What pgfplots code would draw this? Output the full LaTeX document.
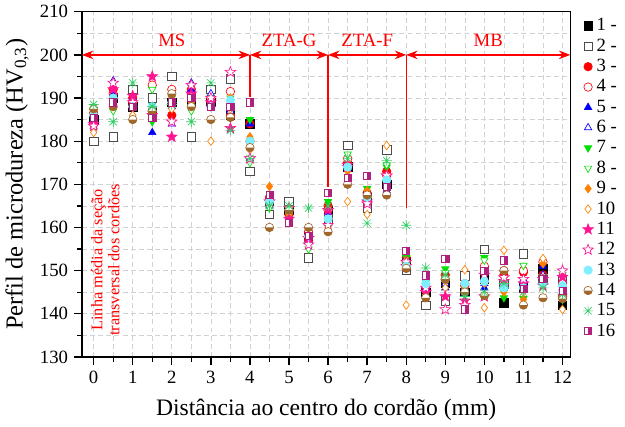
\documentclass[border=0pt]{standalone}
\usepackage{fontspec}
\setmainfont{Liberation Serif}
\usepackage{pgfplots}
\usepackage{pgfplotstable}
\pgfplotsset{compat=1.18}
\usetikzlibrary{arrows.meta,plotmarks}

\definecolor{cred}{HTML}{FF0000}
\definecolor{cblue}{HTML}{0000FF}
\definecolor{cgreen}{HTML}{00E000}
\definecolor{corange}{HTML}{FF8000}
\definecolor{cpink}{HTML}{FF1493}
\definecolor{ccyan}{HTML}{7FEFFF}
\definecolor{cbrown}{HTML}{A0662A}
\definecolor{cgreen2}{HTML}{33CC66}
\definecolor{cmag}{HTML}{B0207F}

% five-point star
\pgfdeclareplotmark{pstar}{%
  \pgfpathmoveto{\pgfpointpolar{90}{1.3\pgfplotmarksize}}%
  \pgfpathlineto{\pgfpointpolar{126}{0.55\pgfplotmarksize}}%
  \pgfpathlineto{\pgfpointpolar{162}{1.3\pgfplotmarksize}}%
  \pgfpathlineto{\pgfpointpolar{198}{0.55\pgfplotmarksize}}%
  \pgfpathlineto{\pgfpointpolar{234}{1.3\pgfplotmarksize}}%
  \pgfpathlineto{\pgfpointpolar{270}{0.55\pgfplotmarksize}}%
  \pgfpathlineto{\pgfpointpolar{306}{1.3\pgfplotmarksize}}%
  \pgfpathlineto{\pgfpointpolar{342}{0.55\pgfplotmarksize}}%
  \pgfpathlineto{\pgfpointpolar{18}{1.3\pgfplotmarksize}}%
  \pgfpathlineto{\pgfpointpolar{54}{0.55\pgfplotmarksize}}%
  \pgfpathclose
  \pgfusepathqfillstroke}
% eight-ray asterisk
\pgfdeclareplotmark{ast8}{%
  \pgfpathmoveto{\pgfpointpolar{0}{1.2\pgfplotmarksize}}\pgfpathlineto{\pgfpointpolar{180}{1.2\pgfplotmarksize}}%
  \pgfpathmoveto{\pgfpointpolar{45}{1.2\pgfplotmarksize}}\pgfpathlineto{\pgfpointpolar{225}{1.2\pgfplotmarksize}}%
  \pgfpathmoveto{\pgfpointpolar{90}{1.2\pgfplotmarksize}}\pgfpathlineto{\pgfpointpolar{270}{1.2\pgfplotmarksize}}%
  \pgfpathmoveto{\pgfpointpolar{135}{1.2\pgfplotmarksize}}\pgfpathlineto{\pgfpointpolar{315}{1.2\pgfplotmarksize}}%
  \pgfusepathqstroke}
% circle, lower half filled
\pgfdeclareplotmark{hcirc}{%
  \begin{pgfscope}\pgfsetfillcolor{white}%
  \pgfpathcircle{\pgfpointorigin}{\pgfplotmarksize}\pgfusepathqfill\end{pgfscope}%
  \pgfpathmoveto{\pgfpoint{-\pgfplotmarksize}{0pt}}%
  \pgfpatharc{180}{360}{\pgfplotmarksize}\pgfpathclose\pgfusepathqfill
  \pgfpathcircle{\pgfpointorigin}{\pgfplotmarksize}\pgfusepathqstroke}
% square, right half filled
\pgfdeclareplotmark{hsq}{%
  \begin{pgfscope}\pgfsetfillcolor{white}%
  \pgfpathrectangle{\pgfpoint{-\pgfplotmarksize}{-\pgfplotmarksize}}{\pgfpoint{2\pgfplotmarksize}{2\pgfplotmarksize}}%
  \pgfusepathqfill\end{pgfscope}%
  \pgfpathrectangle{\pgfpoint{0pt}{-\pgfplotmarksize}}{\pgfpoint{\pgfplotmarksize}{2\pgfplotmarksize}}\pgfusepathqfill
  \pgfpathrectangle{\pgfpoint{-\pgfplotmarksize}{-\pgfplotmarksize}}{\pgfpoint{2\pgfplotmarksize}{2\pgfplotmarksize}}%
  \pgfusepathqstroke}

\pgfplotstableread{
x    s1    s2    s3    s4    s5    s6    s7    s8    s9    s10   s11   s12   s13   s14   s15   s16
0    185   180   186.5 184   186   185   186   182.5 186.5 182   184   183.5 186   187.5 188.5 185.5
0.5  190   181   192   191   191   194   188   187   189   188   192   193.5 190   188   184.5 189
1    188   192   190   189   190   190   189   188   186   186   190.5 189   188   185   193.5 188
1.5  187   190   187   193   182   188   184.5 192   187   186   195   186   188   187   188   185.5
2    189   195   186   192   188   184   188   190   190   187.5 181   184.5 189   191   188.5 189
2.5  189   181   192   191   192   193.5 188   187   189   188   191   193   190   188   184.5 190
3    189   192   189   190   189.5 191   190   188   188   180   189   190   188   185   193.5 188
3.5  186   194.5 186   191.5 188   187   189   190   190   187.5 183   196   189.5 185.5 182.5 188
4    184   173   184   180   184   176   185   175   181   178   176   176   180   178.5 176   189
4.5  166   163   166   167   165   165.5 165   164.5 169.5 166   166   166   166   160   165   167.5
5    164   166   163   164   162   162.5 163   162   163   164   162   164.5 164   164   165   161
5.5  158   153   157   159   157   157   156   155   158   160   157.5 156   158   160   164.5 158
6    164   162   165   164   163.5 161   166   160   161.5 160   164   160.5 162   159   165   168
6.5  174   179   175   176   174   173.5 173   177   173   166   174.5 174   174   170   176   171.5
7    167   164.5 168   166   168.5 166   169   167   168.5 163   166   165.5 167   167.5 161   172
7.5  170   178   173   172   168.5 170   174   174.5 169   179   172   172   171   167.5 175.5 169.5
8    152   150   153   152   153   152.5 153   151.5 152.4 142   151   152   151   150.5 160.5 154.5
8.5  145   142   146   145.5 146   146.5 147.3 148   145.4 144.5 145   146   147   143.7 150.6 148.9
9    147   143   149   148   146   147   150.4 149.5 147.5 146   144   141   148   148   149   152.8
9.5  145   148.8 146.5 147   144.5 146   142.8 145   146   150.2 143   142   147   145   144   141
10   148   154.9 150   151   146   147   153   152.4 147   141.4 144   149   147.5 144.2 145   150
10.5 142.5 146.9 149   150   146   147   143.7 145   145   154.7 147.5 148.4 146   150   147   152.4
11   146   153.9 149.6 150   147   148   143.5 151.2 143.3 145   147   148   146   142   145   145.7
11.5 150.4 148   149   152   151   149   147   148.5 151.6 152.8 146.5 148   147   143.7 146   148
12   142   148   144   147   145   146   143.3 149   146   141   148.5 150   146.5 143.5 144.5 145.4
}\hv

\begin{document}
\begin{tikzpicture}
\begin{axis}[
    scale only axis,
    width=300pt, height=212pt,
    xmin=-0.3, xmax=12.2, ymin=130, ymax=210,
    xtick={0,...,12}, minor xtick={0.5,1.5,...,11.5},
    ytick={130,140,...,210}, minor ytick={135,145,...,205},
    grid=both, grid style={densely dashed, gray!35},
    tick align=outside, xtick pos=bottom, ytick pos=left,
    axis line style={thick}, tick style={black, thick},
    major tick length=5pt, minor tick length=3pt,
    ticklabel style={font=\fontsize{11.5}{13}\selectfont},
    /pgf/number format/assume math mode=true,
    xlabel={Distância ao centro do cordão (mm)},
    ylabel={Perfil de microdureza (HV\textsubscript{0,3})},
    xlabel style={font=\fontsize{14.5}{16}\selectfont, yshift=-3pt},
    ylabel style={font=\fontsize{15}{17}\selectfont},
    mark size=2.6pt,
    legend style={draw=none, fill=none, at={(1.015,1.0)}, anchor=north west,
        font=\fontsize{11.5}{13}\selectfont, row sep=-0.6pt},
    legend cell align=left,
]
\addplot[only marks, mark=square*, mark options={draw=black, fill=black}] table[y=s1] {\hv};
\addplot[only marks, mark=square*, mark options={draw=black!70, fill=white}] table[y=s2] {\hv};
\addplot[only marks, mark=*, mark options={draw=cred, fill=cred}] table[y=s3] {\hv};
\addplot[only marks, mark=*, mark options={draw=cred, fill=white}] table[y=s4] {\hv};
\addplot[only marks, mark=triangle*, mark options={draw=cblue, fill=cblue}] table[y=s5] {\hv};
\addplot[only marks, mark=triangle*, mark options={draw=cblue, fill=white}] table[y=s6] {\hv};
\addplot[only marks, mark=triangle*, mark options={draw=cgreen, fill=cgreen, rotate=180}] table[y=s7] {\hv};
\addplot[only marks, mark=triangle*, mark options={draw=cgreen, fill=white, rotate=180}] table[y=s8] {\hv};
\addplot[only marks, mark=diamond*, mark options={draw=corange, fill=corange}] table[y=s9] {\hv};
\addplot[only marks, mark=diamond*, mark options={draw=corange, fill=white}] table[y=s10] {\hv};
\addplot[only marks, mark=pstar, mark options={draw=cpink, fill=cpink}] table[y=s11] {\hv};
\addplot[only marks, mark=pstar, mark options={draw=cpink, fill=white}] table[y=s12] {\hv};
\addplot[only marks, mark=*, mark options={draw=ccyan, fill=ccyan}] table[y=s13] {\hv};
\addplot[only marks, mark=hcirc, mark options={draw=cbrown, fill=cbrown}] table[y=s14] {\hv};
\addplot[only marks, mark=ast8, mark options={draw=cgreen2}] table[y=s15] {\hv};
\addplot[only marks, mark=hsq, mark options={draw=cmag, fill=cmag, scale=0.85}] table[y=s16] {\hv};
\legend{1 -,2 -,3 -,4 -,5 -,6 -,7 -,8 -,9 -,10,11,12,13,14,15,16}

% zone annotations
\draw[red, thick, {Stealth[length=7pt]}-{Stealth[length=7pt]}] (axis cs:-0.3,200) -- (axis cs:4,200);
\draw[red, thick, {Stealth[length=7pt]}-{Stealth[length=7pt]}] (axis cs:4,200) -- (axis cs:6,200);
\draw[red, thick, {Stealth[length=7pt]}-{Stealth[length=7pt]}] (axis cs:6,200) -- (axis cs:8,200);
\draw[red, thick, {Stealth[length=7pt]}-{Stealth[length=7pt]}] (axis cs:8,200) -- (axis cs:12.2,200);
\draw[red, thick] (axis cs:4,200) -- (axis cs:4,190.3);
\draw[red, thick] (axis cs:6,200) -- (axis cs:6,169.3);
\draw[red, thick] (axis cs:8,200) -- (axis cs:8,164.6);
\node[red, font=\fontsize{11.5}{13}\selectfont] at (axis cs:2,203.4) {MS};
\node[red, font=\fontsize{11.5}{13}\selectfont] at (axis cs:5,203.4) {ZTA-G};
\node[red, font=\fontsize{11.5}{13}\selectfont] at (axis cs:7,203.4) {ZTA-F};
\node[red, font=\fontsize{11.5}{13}\selectfont] at (axis cs:10.1,203.4) {MB};
\node[red, rotate=90, align=center, font=\fontsize{10}{10.5}\selectfont] at (axis cs:0.3,152.5)
    {Linha média da seção\\transversal dos cordões};
\end{axis}
\end{tikzpicture}
\end{document}
